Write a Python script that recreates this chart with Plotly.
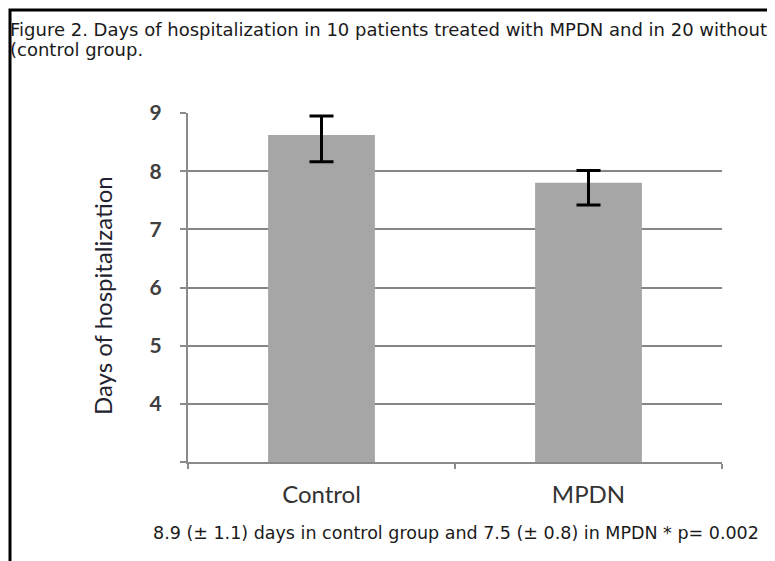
import plotly.graph_objects as go

categories = ["Control", "MPDN"]
means = [8.62, 7.8]
err_up = [0.33, 0.21]
err_down = [0.46, 0.38]
y_ticks = [3, 4, 5, 6, 7, 8, 9]
y_tick_text = ["", "4", "5", "6", "7", "8", "9"]

title_lines = [
    "Figure 2. Days of hospitalization in 10 patients treated with MPDN and in 20 without",
    "(control group.",
]
caption = "8.9 (± 1.1) days in control group and 7.5 (± 0.8) in MPDN * p= 0.002"

# the page body has an 8px margin, so the figure is drawn 8px in from the corner
OFF = 8
W, H = 775 - OFF, 561 - OFF
L, R, T, B = 188, 722, 113, 462   # plot area in window pixels


def px(x):
    return (x - L) / (R - L)


def py(y):
    return (B - y) / (B - T)


fig = go.Figure()
fig.add_trace(go.Bar(
    x=categories, y=means, width=0.4,
    marker=dict(color="#a6a6a6", line=dict(width=0)),
    error_y=dict(type="data", symmetric=False, array=err_up, arrayminus=err_down,
                 color="black", thickness=3, width=12),
))

fig.update_layout(
    width=W, height=H,
    margin=dict(l=L - OFF, r=W - (R - OFF), t=T - OFF, b=H - (B - OFF), pad=0),
    paper_bgcolor="white", plot_bgcolor="white",
    showlegend=False,
    font=dict(family="Lato", color="#404040"),
)
fig.update_xaxes(
    type="category", range=[-0.5, 1.5],
    showline=True, linecolor="#8a8a8a", linewidth=2,
    ticks="outside", tickson="boundaries", ticklen=5, tickcolor="#8a8a8a", tickwidth=2,
    tickfont=dict(family="Lato", size=24, color="#333333"),
    ticklabelstandoff=10,
    showgrid=False,
)
fig.update_yaxes(
    range=[3, 9], tickvals=y_ticks, ticktext=y_tick_text,
    showline=True, linecolor="#8a8a8a", linewidth=2,
    ticks="outside", ticklen=6, tickcolor="#8a8a8a", tickwidth=2,
    tickfont=dict(family="Lato", size=21, color="#404040", weight="bold"),
    ticklabelstandoff=14,
    showgrid=True, gridcolor="#858585", gridwidth=2,
    zeroline=False,
)

annotations = []
for i, line in enumerate(title_lines):
    annotations.append(dict(
        text=line, xref="paper", yref="paper", x=px(8), y=py(29 + 21 * i),
        xanchor="left", yanchor="middle", showarrow=False,
        font=dict(family="DejaVu Sans", size=18, color="#1a1a1a"),
    ))
annotations.append(dict(
    text="Days of hospitalization", xref="paper", yref="paper", x=px(102), y=py(296),
    xanchor="center", yanchor="middle", textangle=-90, showarrow=False,
    font=dict(family="Lato", size=24, color="#22222e"),
))
annotations.append(dict(
    text=caption, xref="paper", yref="paper", x=px(456), y=py(533),
    xanchor="center", yanchor="middle", showarrow=False,
    font=dict(family="DejaVu Sans", size=17.5, color="#1a1a1a"),
))
fig.update_layout(annotations=annotations)

fig.add_shape(type="path", xref="paper", yref="paper",
              path=f"M {px(10)} {py(570)} L {px(10)} {py(10)} L {px(790)} {py(10)}",
              line=dict(color="black", width=3))

fig.write_html("out.html")
